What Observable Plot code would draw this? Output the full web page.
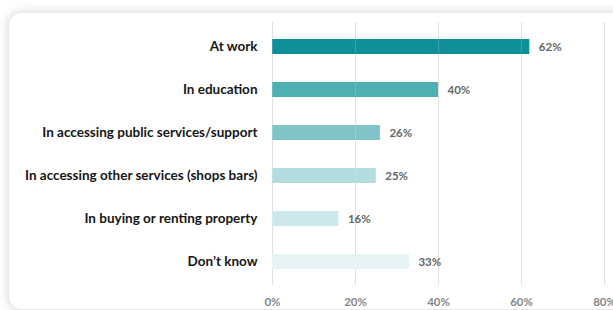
<!DOCTYPE html>
<html>
<head>
<meta charset="utf-8">
<script src="https://cdn.jsdelivr.net/npm/d3@7"></script>
<script src="https://cdn.jsdelivr.net/npm/@observablehq/plot@0.6"></script>
<style>
  html, body { margin: 0; padding: 0; background: #ffffff; }
  body { width: 613px; height: 310px; overflow: hidden; position: relative; }
  #card {
    position: absolute; left: 9px; top: 13px; width: 720px; height: 296px;
    background: #fff; border-radius: 13px;
    box-shadow: 0 0 10px 2px rgba(0,0,0,0.14);
  }
  #chart { position: absolute; left: 0; top: 0; }
</style>
</head>
<body>
<div id="card"></div>
<div id="chart"></div>
<script>
const categories = [
  "At work",
  "In education",
  "In accessing public services/support",
  "In accessing other services (shops bars)",
  "In buying or renting property",
  "Don’t know"
];
const values = [62, 40, 26, 25, 16, 33];
const colors = ["#0f8f98", "#4eb0b3", "#80c4c8", "#b3dcdf", "#cde8ea", "#e5f3f4"];
const xTicks = [0, 20, 40, 60, 80];

const data = categories.map((c, i) => ({category: c, value: values[i], color: colors[i]}));

const chart = Plot.plot({
  width: 613,
  height: 310,
  marginLeft: 272,
  marginRight: 9,
  marginTop: 22,
  marginBottom: 25,
  style: {background: "transparent", fontFamily: "Lato, 'Open Sans', sans-serif"},
  x: {domain: [0, 80], ticks: xTicks, tickFormat: d => d + "%", label: null},
  y: {domain: categories, paddingInner: 0.655, paddingOuter: 0.3275, label: null},
  marks: [
    Plot.gridX(xTicks, {stroke: "#d9d9d9", strokeOpacity: 1}),
    Plot.barX(data, {x: "value", y: "category", fill: "color"}),
    Plot.gridX(xTicks, {stroke: "#ffffff", strokeOpacity: 0.18}),
    Plot.text(data, {x: "value", y: "category", text: d => d.value + "%", dx: 9, textAnchor: "start", fill: "#666", fontSize: 11.5, fontWeight: "bold"}),
    Plot.axisX({ticks: xTicks, tickFormat: d => d + "%", tickSize: 0, tickPadding: 12, fontSize: 11.5, fill: "#888", fontWeight: "bold", label: null}),
    Plot.axisY({tickSize: 0, tickPadding: 15, fontSize: 13.5, fontWeight: "bold", fill: "#161616", label: null})
  ]
});
document.getElementById("chart").appendChild(chart);
</script>
</body>
</html>
